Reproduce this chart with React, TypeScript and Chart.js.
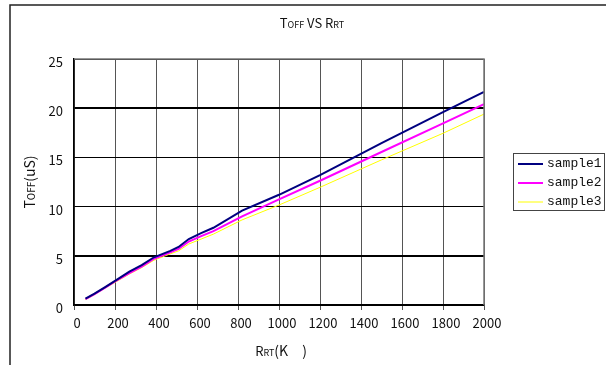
import React, { useEffect, useRef } from "react";
import { Chart, registerables } from "chart.js";

Chart.register(...registerables);

const xValues = [56, 100, 150, 200, 270, 330, 390, 470, 510, 560, 620, 680, 820, 1000, 1200, 1500, 1800, 2000];
const sample1 = [0.65, 1.15, 1.8, 2.45, 3.4, 4.05, 4.85, 5.5, 5.9, 6.7, 7.3, 7.85, 9.6, 11.2, 13.2, 16.45, 19.6, 21.65];
const sample2 = [0.6, 1.1, 1.75, 2.4, 3.25, 3.9, 4.7, 5.35, 5.7, 6.45, 7.0, 7.5, 9.0, 10.74, 12.63, 15.55, 18.46, 20.4];
const sample3 = [0.55, 1.05, 1.7, 2.3, 3.15, 3.8, 4.55, 5.2, 5.5, 6.2, 6.7, 7.2, 8.65, 10.16, 11.96, 14.75, 17.45, 19.4];
const seriesNames = ["sample1", "sample2", "sample3"];
const seriesColors = ["#000080", "#FF00FF", "#FFFF00"];
const seriesWidths = [2, 2, 1];
const xTicks = [0, 200, 400, 600, 800, 1000, 1200, 1400, 1600, 1800, 2000];
const yTicks = [0, 5, 10, 15, 20, 25];

const FONT = "'Noto Sans CJK JP', 'Noto Sans', sans-serif";

type Seg = { t: string; s: number };

function drawSegs(ctx: CanvasRenderingContext2D, segs: Seg[], cx: number, cy: number) {
  let total = 0;
  for (const sg of segs) {
    ctx.font = `${sg.s}px ${FONT}`;
    total += ctx.measureText(sg.t).width;
  }
  let x = cx - total / 2;
  ctx.textBaseline = "alphabetic";
  ctx.textAlign = "left";
  for (const sg of segs) {
    ctx.font = `${sg.s}px ${FONT}`;
    ctx.fillText(sg.t, x, cy + 5);
    x += ctx.measureText(sg.t).width;
  }
}

const decorPlugin = {
  id: "decor",
  beforeDraw(chart: any) {
    const ctx = chart.ctx as CanvasRenderingContext2D;
    ctx.save();
    ctx.fillStyle = "#fff";
    ctx.fillRect(0, 0, chart.width, chart.height);
    ctx.strokeStyle = "#222";
    ctx.lineWidth = 1.5;
    ctx.beginPath();
    ctx.moveTo(10, 365);
    ctx.lineTo(10, 5);
    ctx.lineTo(606, 5);
    ctx.stroke();
    ctx.restore();
  },
  afterDatasetsDraw(chart: any) {
    const ctx = chart.ctx as CanvasRenderingContext2D;
    const a = chart.chartArea;
    ctx.save();
    ctx.strokeStyle = "#777";
    ctx.lineWidth = 1.5;
    ctx.beginPath();
    ctx.moveTo(a.left, a.top);
    ctx.lineTo(a.right, a.top);
    ctx.lineTo(a.right, a.bottom);
    ctx.stroke();
    ctx.restore();
  },
  afterDraw(chart: any) {
    const ctx = chart.ctx as CanvasRenderingContext2D;
    ctx.save();
    ctx.fillStyle = "#111";
    drawSegs(ctx, [{ t: "T", s: 13 }, { t: "OFF", s: 9 }, { t: " VS ", s: 13 }, { t: "R", s: 13 }, { t: "RT", s: 9 }], 312, 23);
    drawSegs(ctx, [{ t: "R", s: 13 }, { t: "RT", s: 9 }, { t: "(K\u3000)", s: 14 }], 281, 351);
    ctx.save();
    ctx.translate(30, 182);
    ctx.rotate(-Math.PI / 2);
    drawSegs(ctx, [{ t: "T", s: 14 }, { t: "OFF", s: 10 }, { t: "(uS)", s: 14 }], 0, 0);
    ctx.restore();
    ctx.fillStyle = "#fff";
    ctx.fillRect(513.5, 153.5, 91, 57);
    ctx.strokeStyle = "#444";
    ctx.lineWidth = 1;
    ctx.strokeRect(513.5, 153.5, 91, 57);
    const rows = [164, 183, 202];
    chart.data.datasets.forEach((ds: any, i: number) => {
      ctx.strokeStyle = ds.borderColor;
      ctx.lineWidth = ds.borderWidth;
      ctx.beginPath();
      ctx.moveTo(518, rows[i]);
      ctx.lineTo(543, rows[i]);
      ctx.stroke();
      ctx.fillStyle = "#111";
      ctx.font = "13px 'Liberation Mono', monospace";
      ctx.textBaseline = "middle";
      ctx.textAlign = "left";
      ctx.fillText(ds.label, 547, rows[i]);
    });
    ctx.restore();
  },
};

export default function App() {
  const ref = useRef<HTMLCanvasElement | null>(null);
  useEffect(() => {
    document.body.style.margin = "0";
    if (!ref.current) return;
    const datasets = [sample1, sample2, sample3].map((vals, i) => ({
      label: seriesNames[i],
      data: xValues.map((x, j) => ({ x, y: vals[j] })),
      borderColor: seriesColors[i],
      backgroundColor: seriesColors[i],
      borderWidth: seriesWidths[i],
      pointRadius: 0,
      tension: 0,
      fill: false,
    }));
    const chart = new Chart(ref.current, {
      type: "line",
      data: { datasets },
      plugins: [decorPlugin],
      options: {
        animation: false,
        responsive: false,
        devicePixelRatio: 1,
        layout: { padding: { left: 0, right: 122, top: 59, bottom: 0 } },
        plugins: { legend: { display: false }, title: { display: false }, tooltip: { enabled: false } },
        scales: {
          x: {
            type: "linear",
            min: 0,
            max: 2000,
            afterFit: (s: any) => { s.height = 60; },
            afterBuildTicks: (s: any) => { s.ticks = xTicks.map((v) => ({ value: v })); },
            grid: {
              color: "#555",
              lineWidth: 1,
              tickLength: 5,
              drawTicks: true,
            },
            border: { color: "#000", width: 1.5 },
            ticks: {
              color: "#111",
              font: { family: FONT, size: 13 },
              padding: 5,
              labelOffset: 3,
              maxRotation: 0,
              autoSkip: false,
              callback: (v: any) => String(v),
            },
          },
          y: {
            type: "linear",
            min: 0,
            max: 25,
            afterFit: (s: any) => { s.width = 74; },
            afterBuildTicks: (s: any) => { s.ticks = yTicks.map((v) => ({ value: v })); },
            grid: {
              color: "#000",
              lineWidth: (c: any) => (c.tick && (c.tick.value === 5 || c.tick.value === 20) ? 2 : 1),
              drawTicks: false,
            },
            border: { color: "#000", width: 1.5 },
            ticks: {
              color: "#111",
              font: { family: FONT, size: 13 },
              padding: 11,
              labelOffset: 3,
              callback: (v: any) => String(v),
            },
          },
        },
      },
    } as any);
    return () => chart.destroy();
  }, []);
  return <canvas ref={ref} width={606} height={365} style={{ display: "block" }} />;
}
